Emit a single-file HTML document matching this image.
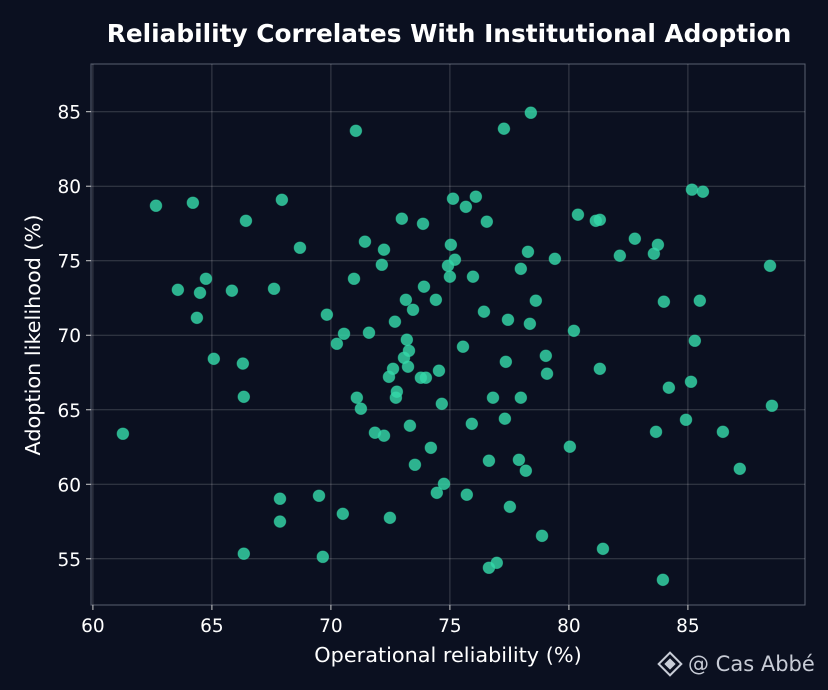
<!DOCTYPE html>
<html><head><meta charset="utf-8"><style>
html,body{margin:0;padding:0;background:#0b1020;}
svg{display:block;font-family:"DejaVu Sans","Liberation Sans",sans-serif;}
</style></head><body>
<svg id="chart" width="828" height="690">
<rect width="828" height="690" fill="#0b1020"/>
<text x="449" y="42" text-anchor="middle" fill="#ffffff" font-size="24.8" font-weight="bold">Reliability Correlates With Institutional Adoption</text>
<text x="448" y="662" text-anchor="middle" fill="#ffffff" font-size="20.8">Operational reliability (%)</text>
<text transform="translate(40,335) rotate(-90)" text-anchor="middle" fill="#ffffff" font-size="20.8">Adoption likelihood (%)</text>
<g id="grid"></g><g id="pts"></g>
<g>
<g transform="translate(670,664) rotate(45)" fill="none" stroke="#c8ccd6" stroke-width="2"><rect x="-8" y="-8" width="16" height="16"/><rect x="-3" y="-3" width="6" height="6" fill="#c8ccd6"/></g>
<text x="688" y="671" fill="#c8ccd6" font-size="21">@ Cas Abbé</text>
</g>
</svg>
<script>
const xVals=[61.26,62.65,63.57,64.20,64.37,64.50,64.75,65.08,65.84,66.30,66.34,66.34,66.43,67.61,67.86,67.86,67.94,68.70,69.50,69.66,69.83,70.25,70.50,70.55,70.97,71.05,71.09,71.26,71.43,71.60,71.85,72.14,72.23,72.23,72.44,72.48,72.61,72.69,72.73,72.77,72.98,73.07,73.19,73.15,73.24,73.28,73.32,73.45,73.53,73.78,73.87,73.91,73.99,74.20,74.41,74.54,74.45,74.66,74.75,74.92,75.00,75.04,75.13,75.21,75.55,75.67,75.71,75.92,75.97,76.09,76.43,76.55,76.64,76.64,76.81,76.97,77.27,77.31,77.35,77.44,77.52,77.90,77.98,77.98,78.19,78.28,78.36,78.40,78.61,78.87,79.03,79.08,79.41,80.04,80.21,80.38,81.13,81.30,81.30,81.43,82.14,82.77,83.57,83.74,83.95,83.99,84.20,84.92,85.13,85.17,85.29,85.50,85.63,86.47,87.18,88.45,88.53,83.66];
const yVals=[63.39,78.69,73.05,78.89,71.17,72.85,73.79,68.42,72.99,68.10,65.87,55.34,77.68,73.12,57.50,59.03,79.09,75.87,59.23,55.13,71.38,69.43,58.02,70.10,73.79,83.72,65.81,65.07,76.28,70.17,63.46,74.73,63.26,75.74,67.21,57.75,67.75,70.91,65.81,66.21,77.82,68.49,69.70,72.38,67.89,68.96,63.93,71.71,61.31,67.15,77.48,73.26,67.15,62.45,72.38,67.62,59.43,65.40,60.03,74.66,73.93,76.07,79.16,75.07,69.23,78.62,59.30,64.06,73.93,79.30,71.58,77.62,61.58,54.40,65.81,54.73,83.86,64.40,68.22,71.04,58.49,61.64,74.46,65.81,60.91,75.60,70.77,84.93,72.32,56.54,68.62,67.42,75.13,62.52,70.30,78.09,77.68,77.75,67.75,55.67,75.34,76.48,75.47,76.07,53.59,72.25,66.48,64.33,66.88,79.77,69.63,72.32,79.63,63.52,61.04,74.66,65.27,63.52];
const xTicks=[60,65,70,75,80,85];
const yTicks=[55,60,65,70,75,80,85];
const L=91,R=805,T=64,B=605;
const X0=59.92,X1=89.92,Y0=51.9,Y1=88.2;
const sx=v=>L+(v-X0)/(X1-X0)*(R-L);
const sy=v=>B-(v-Y0)/(Y1-Y0)*(B-T);
const NS="http://www.w3.org/2000/svg";
const g=document.getElementById('grid'),p=document.getElementById('pts');
function mk(tag,attrs,parent){const e=document.createElementNS(NS,tag);for(const k in attrs)e.setAttribute(k,attrs[k]);parent.appendChild(e);return e;}
const frame=mk('rect',{x:L,y:T,width:R-L,height:B-T,fill:'none',stroke:'#5a6070','stroke-width':1},g);


xTicks.forEach(t=>{const x=sx(t);
const l=mk('line',{x1:x,x2:x,y1:T,y2:B,stroke:'#ffffff','stroke-opacity':0.2},g);


mk('line',{x1:x,x2:x,y1:B,y2:B+5,stroke:'#cccccc'},g);
const tx=mk('text',{x:x,y:B+27,'text-anchor':'middle',fill:'#ffffff','font-size':18.5},g);tx.textContent=t;

});
yTicks.forEach(t=>{const y=sy(t);
const l=mk('line',{x1:L,x2:R,y1:y,y2:y,stroke:'#ffffff','stroke-opacity':0.2},g);


mk('line',{x1:L-5,x2:L,y1:y,y2:y,stroke:'#cccccc'},g);
const tx=mk('text',{x:L-10,y:y+7,'text-anchor':'end',fill:'#ffffff','font-size':18.5},g);tx.textContent=t;

});
xVals.forEach((v,i)=>{const c=mk('circle',{cx:sx(v),cy:sy(yVals[i]),r:5.8,fill:'#34d8a8','fill-opacity':0.82,stroke:'#34d8a8','stroke-opacity':0.5},p);

});
</script>
</body></html>
